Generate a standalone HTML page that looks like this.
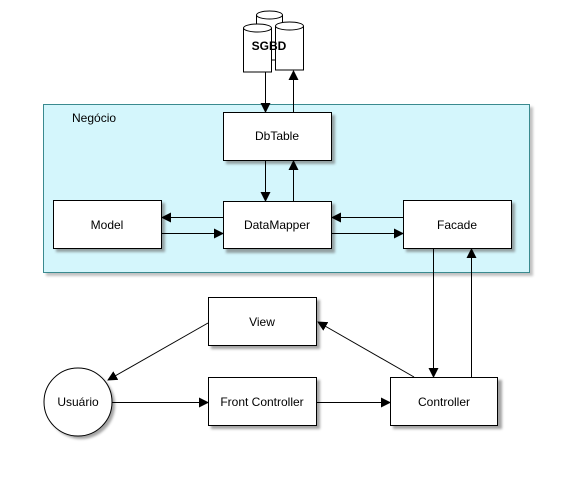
<!DOCTYPE html>
<html><head><meta charset="utf-8"><style>
html,body{margin:0;padding:0;background:#fff;width:570px;height:480px;overflow:hidden}
text{font-family:"Liberation Sans",sans-serif;font-size:12px;fill:#000}
</style></head><body>
<svg width="570" height="480" xmlns="http://www.w3.org/2000/svg">
<defs>
<marker id="a" markerWidth="10" markerHeight="10" refX="9" refY="5" orient="auto" markerUnits="userSpaceOnUse"><path d="M0,0 L10,5 L0,10 z" fill="#000"/></marker>
<filter id="b" x="-20%" y="-20%" width="140%" height="140%"><feGaussianBlur stdDeviation="1.2"/></filter>
</defs>
<!-- container -->
<rect x="46" y="107" width="487" height="169" fill="#999" opacity="0.6" filter="url(#b)"/>
<rect x="43.5" y="104.5" width="486" height="168" fill="#d4f6fc" stroke="#3a8a8f"/>
<text x="72" y="122">Negócio</text>
<!-- shadows -->
<g fill="#666" opacity="0.6" filter="url(#b)">
<rect x="56" y="203" width="109" height="49"/>
<rect x="226" y="204" width="109" height="49"/>
<rect x="226" y="115" width="109" height="49"/>
<rect x="406" y="203" width="109" height="49"/>
<rect x="211" y="300" width="109" height="49"/>
<rect x="211" y="380" width="109" height="49"/>
<rect x="393" y="380" width="109" height="49"/>
<circle cx="81" cy="405" r="34"/>
</g>
<g fill="#fff" stroke="#000">
<rect x="53.5" y="200.5" width="108" height="48"/>
<rect x="223.5" y="201.5" width="108" height="47"/>
<rect x="223.5" y="112.5" width="108" height="48"/>
<rect x="403.5" y="200.5" width="108" height="48"/>
<rect x="208.5" y="297.5" width="108" height="48"/>
<rect x="208.5" y="377.5" width="108" height="48"/>
<rect x="390.5" y="377.5" width="107" height="48"/>
<circle cx="78" cy="402" r="34"/>
</g>
<g text-anchor="middle">
<text x="107" y="229">Model</text>
<text x="277" y="229">DataMapper</text>
<text x="277" y="140">DbTable</text>
<text x="457" y="229">Facade</text>
<text x="262" y="326">View</text>
<text x="262" y="406">Front Controller</text>
<text x="444" y="406">Controller</text>
<text x="78" y="406">Usuário</text>
</g>
<!-- SGBD cylinders -->
<g fill="#fff" stroke="#000">
<path d="M256.5,15 L256.5,60 L282.5,60 L282.5,15"/>
<ellipse cx="269.5" cy="15" rx="13" ry="4"/>
<path d="M243.5,28 L243.5,72 L271.5,72 L271.5,28"/>
<ellipse cx="257.5" cy="28" rx="14" ry="4"/>
<path d="M275.5,26 L275.5,70 L303.5,70 L303.5,26"/>
<ellipse cx="289.5" cy="26" rx="14" ry="4"/>
</g>
<text x="269" y="50" text-anchor="middle" style="font-weight:bold">SGBD</text>
<!-- connectors -->
<g stroke="#000" stroke-width="1" fill="none" marker-end="url(#a)">
<line x1="265.5" y1="72" x2="265.5" y2="112"/>
<line x1="293.5" y1="112" x2="293.5" y2="71"/>
<line x1="265.5" y1="161" x2="265.5" y2="201"/>
<line x1="293.5" y1="201" x2="293.5" y2="161"/>
<line x1="223" y1="217.5" x2="162" y2="217.5"/>
<line x1="162" y1="233.5" x2="223" y2="233.5"/>
<line x1="403" y1="217.5" x2="332" y2="217.5"/>
<line x1="332" y1="233.5" x2="403" y2="233.5"/>
<line x1="433.5" y1="249" x2="433.5" y2="377"/>
<line x1="471.5" y1="377" x2="471.5" y2="249"/>
<line x1="414" y1="377" x2="318" y2="322"/>
<line x1="208" y1="323" x2="108" y2="380"/>
<line x1="112" y1="402.5" x2="208" y2="402.5"/>
<line x1="317" y1="402.5" x2="390" y2="402.5"/>
</g>
</svg>
</body></html>
